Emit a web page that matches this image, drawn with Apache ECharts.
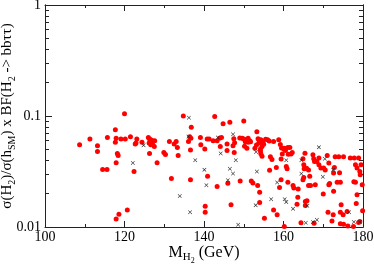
<!DOCTYPE html>
<html>
<head>
<meta charset="utf-8">
<script src="https://cdn.jsdelivr.net/npm/echarts@6/dist/echarts.min.js"></script>
<style>html,body{margin:0;padding:0;background:#fff}#c{width:374px;height:265px}</style>
</head>
<body>
<div id="c"></div>
<script>
var xTicks = [100, 120, 140, 160, 180];
var yTickLabels = ['0.01', '0.1', '1'];
var yMinorTicks = [0.02,0.03,0.04,0.05,0.06,0.07,0.08,0.09,0.2,0.3,0.4,0.5,0.6,0.7,0.8,0.9];

var redPoints = [
[108.7,0.055],[111.3,0.062],[113.2,0.054],[113.2,0.048],[114.5,0.033],[115.6,0.033],[115.7,0.064],
[117.7,0.075],[117.7,0.058],[117.9,0.063],[117.9,0.038],[118.2,0.046],[118.4,0.044],[118.6,0.013],
[117.9,0.0118],[119.1,0.062],[120.0,0.105],[120.2,0.062],[120.7,0.0142],[121.5,0.065],[122.4,0.0316],
[122.7,0.056],[122.9,0.057],[123.1,0.062],[124.4,0.058],[126.0,0.064],[126.3,0.062],[126.6,0.061],
[127.1,0.060],[127.6,0.060],[126.2,0.057],[126.6,0.055],[127.5,0.053],[126.3,0.046],[127.1,0.055],
[128.2,0.038],[129.9,0.047],[130.3,0.045],[131.3,0.059],[131.8,0.0273],[132.5,0.056],[133.0,0.059],
[133.3,0.052],[133.5,0.044],[134.8,0.100],[136.1,0.059],[136.4,0.065],[136.8,0.079],[136.7,0.063],
[136.6,0.0495],[136.6,0.0266],[139.1,0.064],[139.2,0.055],[140.2,0.0505],[140.3,0.0154],[140.3,0.0136],
[140.8,0.062],[140.9,0.0287],[141.3,0.062],[142.3,0.060],[142.7,0.099],[143.3,0.060],[143.3,0.0232],
[143.9,0.063],[144.1,0.053],[144.4,0.064],[144.8,0.085],[145.8,0.056],[145.8,0.0488],[146.0,0.0248],
[146.5,0.088],[146.8,0.0159],[147.3,0.054],[147.5,0.0625],[147.7,0.0575],[147.6,0.0469],[149.0,0.0635],
[149.1,0.026],[149.6,0.063],[150.0,0.090],[150.0,0.062],[150.5,0.061],[151.1,0.063],[151.5,0.060],
[150.4,0.0585],[151.1,0.058],[151.7,0.0585],[150.2,0.0533],[150.8,0.0513],[151.9,0.026],[152.3,0.0249],
[152.8,0.0513],[153.2,0.0548],[153.3,0.0723],[153.5,0.0237],[153.6,0.0625],[153.8,0.057],[154.0,0.0206],
[154.0,0.0166],[154.2,0.0505],[154.2,0.0483],[154.3,0.061],[154.3,0.0457],[154.6,0.053],[154.6,0.0435],
[154.8,0.058],[155.0,0.0556],[155.2,0.012],[155.5,0.0617],[156.0,0.061],[156.4,0.0595],[156.5,0.0325],
[156.7,0.043],[157.1,0.0405],[157.5,0.059],[157.5,0.0142],[158.2,0.0343],[158.4,0.0129],[158.8,0.061],
[159.0,0.0227],[159.2,0.0555],[159.4,0.041],[159.4,0.0266],[159.5,0.0515],[159.7,0.0455],[160.1,0.0505],
[160.2,0.0101],[160.2,0.0513],[160.5,0.049],[160.7,0.035],[160.9,0.0334],[161.1,0.052],[161.1,0.0253],
[161.2,0.0453],[161.6,0.052],[161.9,0.0455],[162.2,0.047],[162.4,0.0236],[162.6,0.0224],[163.7,0.022],
[163.6,0.0185],[163.4,0.016],[164.4,0.0109],[165.4,0.0462],[164.9,0.0412],[165.1,0.0363],[165.2,0.0334],
[165.8,0.0338],[165.1,0.0279],[164.9,0.0266],[165.5,0.017],[165.9,0.0172],[165.5,0.0156],[166.3,0.0327],
[166.6,0.0286],[166.3,0.0236],[166.8,0.0236],[167.4,0.0447],[167.6,0.0412],[167.8,0.039],[168.4,0.039],
[168.0,0.024],[167.7,0.0108],[168.9,0.0363],[168.9,0.0418],[169.4,0.034],[170.1,0.034],[170.0,0.0198],
[170.5,0.0327],[171.0,0.044],[171.4,0.0378],[171.4,0.024],[171.6,0.0247],[171.2,0.0136],[172.5,0.0129],
[172.2,0.0113],[172.8,0.0343],[172.6,0.0306],[172.6,0.021],[173.0,0.043],[173.5,0.0253],[173.9,0.043],
[174.1,0.0308],[174.3,0.0253],[174.5,0.0159],[174.3,0.0136],[174.3,0.0107],[175.1,0.043],[175.0,0.0129],
[175.1,0.0106],[176.0,0.0138],[176.2,0.0102],[176.8,0.0418],[177.8,0.0418],[177.7,0.0256],[178.1,0.0363],
[178.5,0.034],[178.1,0.0253],[178.5,0.0195],[178.3,0.0163],[178.9,0.0418],[179.2,0.0317],[179.3,0.0295],
[179.5,0.0363],[179.2,0.0112],[179.8,0.024],[179.9,0.014],[178.9,0.011],[177.6,0.0101]
];

var blackPoints = [
[122.1,0.0378],[124.8,0.0545],[133.9,0.019],[136.2,0.0966],[136.1,0.0652],[136.5,0.0136],[137.8,0.040],
[140.1,0.0328],[140.6,0.0238],[143.5,0.0639],[144.2,0.046],[146.0,0.0264],[146.5,0.0334],[147.3,0.0303],
[147.3,0.0684],[148.0,0.040],[148.6,0.0105],[153.0,0.0157],[153.1,0.0475],[153.3,0.0316],[156.9,0.0178],
[158.4,0.0252],[160.3,0.0178],[160.7,0.0168],[160.7,0.040],[162.4,0.0146],[164.5,0.0302],[164.5,0.040],
[165.6,0.0109],[166.0,0.0155],[167.4,0.0111],[168.4,0.0116],[168.9,0.0523],[169.9,0.0283],[170.4,0.0411],
[172.5,0.0328],[176.5,0.0136],[177.7,0.0111],[179.2,0.0111]
];

var FONT = 'Liberation Serif';
var chart = echarts.init(document.getElementById('c'), null, {renderer: 'canvas'});
var lineCol = '#222';
var xBase = {
  type: 'value', min: 100, max: 180, interval: 20,
  axisLine: {show: true, onZero: false, lineStyle: {color: lineCol, width: 1}},
  axisTick: {show: true, inside: true, length: 6, lineStyle: {color: lineCol}},
  minorTick: {show: true, splitNumber: 2, length: 3, lineStyle: {color: lineCol}},
  splitLine: {show: false}
};
var yBase = {
  type: 'log', logBase: 10, min: 0.01, max: 1,
  axisLine: {show: true, onZero: false, lineStyle: {color: lineCol, width: 1}},
  splitLine: {show: false}
};
var option = {
  animation: false,
  backgroundColor: '#fff',
  grid: {left: 45, right: 11, top: 5, bottom: 38, outerBoundsMode: 'none', containLabel: false},
  xAxis: [
    Object.assign({}, xBase, {
      position: 'bottom',
      axisLabel: {show: true, color: '#000', fontFamily: FONT, fontSize: 14, margin: 3,
        customValues: xTicks},
      name: 'M{s|H}{ss|2} (GeV)',
      nameLocation: 'middle', nameGap: 14, nameMoveOverlap: false,
      nameTextStyle: {color: '#000', fontFamily: FONT, fontSize: 16,
        rich: {s: {fontFamily: FONT, fontSize: 11, color: '#000', padding: [9, 0, 0, 0]},
               ss: {fontFamily: FONT, fontSize: 8, color: '#000', padding: [16, 0, 0, 0]}}}
    }),
    Object.assign({}, xBase, {position: 'top', axisLabel: {show: false}})
  ],
  yAxis: [
    Object.assign({}, yBase, {
      position: 'left',
      axisTick: {show: true, inside: true, length: 7, lineStyle: {color: lineCol}},
      axisLabel: {show: true, color: '#000', fontFamily: FONT, fontSize: 14, margin: 4,
        formatter: function (v) { return v >= 1 ? yTickLabels[2] : (v >= 0.1 ? yTickLabels[1] : yTickLabels[0]); }},
      name: 'σ(H{s|2})/σ(h{s|SM}) x BF(H{s|2} -> bbττ)',
      nameLocation: 'middle', nameGap: 28, nameRotate: 90, nameMoveOverlap: false,
      nameTextStyle: {color: '#000', fontFamily: FONT, fontSize: 15,
        rich: {s: {fontFamily: FONT, fontSize: 10, color: '#000', padding: [9, 0, 0, 0]}}}
    }),
    Object.assign({}, yBase, {
      position: 'left',
      axisTick: {show: true, inside: true, length: 4, customValues: yMinorTicks, lineStyle: {color: lineCol}},
      axisLabel: {show: false}
    }),
    Object.assign({}, yBase, {
      position: 'right',
      axisTick: {show: true, inside: true, length: 7, lineStyle: {color: lineCol}},
      axisLabel: {show: false}
    }),
    Object.assign({}, yBase, {
      position: 'right',
      axisTick: {show: true, inside: true, length: 4, customValues: yMinorTicks, lineStyle: {color: lineCol}},
      axisLabel: {show: false}
    })
  ],
  series: [
    {
      type: 'scatter', xAxisIndex: 0, yAxisIndex: 0,
      data: redPoints, symbol: 'circle', symbolSize: 5,
      itemStyle: {color: '#ff0000', opacity: 1}
    },
    {
      type: 'scatter', xAxisIndex: 0, yAxisIndex: 0,
      data: blackPoints,
      symbol: 'path://M0,1 L1,0 L5,4 L9,0 L10,1 L6,5 L10,9 L9,10 L5,6 L1,10 L0,9 L4,5 Z',
      symbolSize: 4,
      itemStyle: {color: '#222', opacity: 1}
    }
  ]
};
chart.setOption(option);
</script>
</body>
</html>
